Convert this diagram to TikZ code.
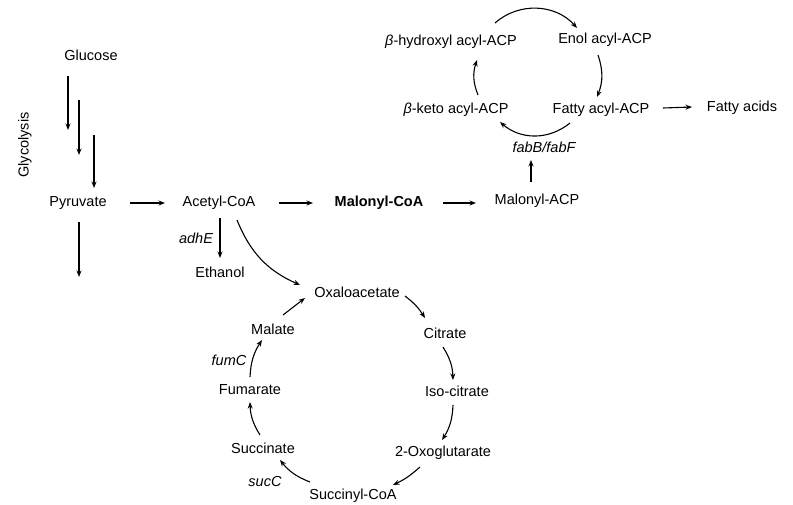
\documentclass[tikz,border=0pt]{standalone}
\usepackage{fontspec}
\setmainfont{Liberation Sans}
\usetikzlibrary{arrows.meta}
\begin{document}
\begin{tikzpicture}[x=1pt,y=-1pt,
  lbl/.style={inner sep=0pt,font=\fontsize{14.5}{17}\selectfont},
  gene/.style={lbl,font=\fontsize{14.5}{17}\selectfont\itshape},
  arr/.style={line width=1.1pt,-{Stealth[length=6.5pt,width=5pt]}},
  cyc/.style={arr,bend left=#1},
]
\useasboundingbox (0,0) rectangle (793,504);
% nodes
\node[lbl] (glu) at (91,55) {Glucose};
\node[lbl,rotate=90] (gly) at (25,145) {Glycolysis};
\node[lbl] (pyr) at (78,203) {Pyruvate};
\node[lbl] (acoa) at (219,203) {Acetyl-CoA};
\node[lbl,font=\fontsize{14.5}{17}\selectfont\bfseries] (mcoa) at (379,203) {Malonyl-CoA};
\node[lbl] (macp) at (537,201) {Malonyl-ACP};
\node[gene] (adhE) at (196,238) {adhE};
\node[lbl] (eth) at (220,272) {Ethanol};
\node[lbl] (oaa) at (357,292) {Oxaloacetate};
\node[lbl] (cit) at (445,333) {Citrate};
\node[lbl] (iso) at (457,391) {Iso-citrate};
\node[lbl] (oxo) at (443,453) {2-Oxoglutarate};
\node[lbl] (scoa) at (353,496) {Succinyl-CoA};
\node[lbl] (suc) at (263,448) {Succinate};
\node[lbl] (fum) at (250,390) {Fumarate};
\node[lbl] (mal) at (273,329) {Malate};
\node[gene] (fumC) at (229,360) {fumC};
\node[gene] (sucC) at (265,482) {sucC};
\node[gene] (fab) at (544,147) {fabB/fabF};
\node[lbl] (bketo) at (456,110) {\textit{β}-keto acyl-ACP};
\node[lbl] (bhyd) at (451,42) {\textit{β}-hydroxyl acyl-ACP};
\node[lbl] (enol) at (605,40) {Enol acyl-ACP};
\node[lbl] (facp) at (601,110) {Fatty acyl-ACP};
\node[lbl] (fa) at (742,108) {Fatty acids};
\coordinate (pyrout) at (79,277);
% glycolysis arrows
\draw[arr] ([shift={(-23,21)}]glu.center) -- ([shift={(-23,75)}]glu.center);
\draw[arr] ([shift={(-12,45)}]glu.center) -- ([shift={(1,-48)}]pyr.center);
\draw[arr] ([shift={(16,-68)}]pyr.center) -- ([shift={(16,-15)}]pyr.center);
\draw[arr] ([shift={(1,19)}]pyr.center) -- (pyrout);
% main line
\draw[arr] ([shift={(52,0)}]pyr.center) -- ([shift={(-54,0)}]acoa.center);
\draw[arr] ([shift={(60,0)}]acoa.center) -- ([shift={(-66,0)}]mcoa.center);
\draw[arr] ([shift={(64,0)}]mcoa.center) -- ([shift={(-61,2)}]macp.center);
\draw[arr] ([shift={(-6,-19)}]macp.center) -- ([shift={(-13,13)}]fab.center);
\draw[arr] ([shift={(1,15)}]acoa.center) -- ([shift={(0,-14)}]eth.center);
\draw[arr] ([shift={(18,17)}]acoa.center) to[bend right=22] ([shift={(-57,-7)}]oaa.center);
\draw[arr] ([shift={(62,-2)}]facp.center) -- ([shift={(-50,-1)}]fa.center);
% fatty acid cycle
\draw[cyc=45] ([shift={(44,-19)}]bhyd.center) to ([shift={(-28,-12)}]enol.center);
\draw[cyc=20] ([shift={(-7,15)}]enol.center) to ([shift={(-4,-13)}]facp.center);
\draw[cyc=40] ([shift={(-31,13)}]facp.center) to ([shift={(44,12)}]bketo.center);
\draw[cyc=20] ([shift={(22,-15)}]bketo.center) to ([shift={(26,18)}]bhyd.center);
% TCA cycle
\draw[arr] ([shift={(10,-14)}]mal.center) -- ([shift={(-52,6)}]oaa.center);
\draw[cyc=10] ([shift={(48,4)}]oaa.center) to ([shift={(-20,-15)}]cit.center);
\draw[cyc=15] ([shift={(-2,14)}]cit.center) to ([shift={(-4,-11)}]iso.center);
\draw[cyc=15] ([shift={(-4,14)}]iso.center) to ([shift={(-1,-13)}]oxo.center);
\draw[cyc=8] ([shift={(-23,14)}]oxo.center) to ([shift={(40,-11)}]scoa.center);
\draw[cyc=15] ([shift={(-43,-14)}]scoa.center) to ([shift={(17,12)}]suc.center);
\draw[cyc=15] ([shift={(-3,-13)}]suc.center) to ([shift={(0,12)}]fum.center);
\draw[cyc=15] ([shift={(0,-13)}]fum.center) to ([shift={(-11,11)}]mal.center);
\end{tikzpicture}
\end{document}
